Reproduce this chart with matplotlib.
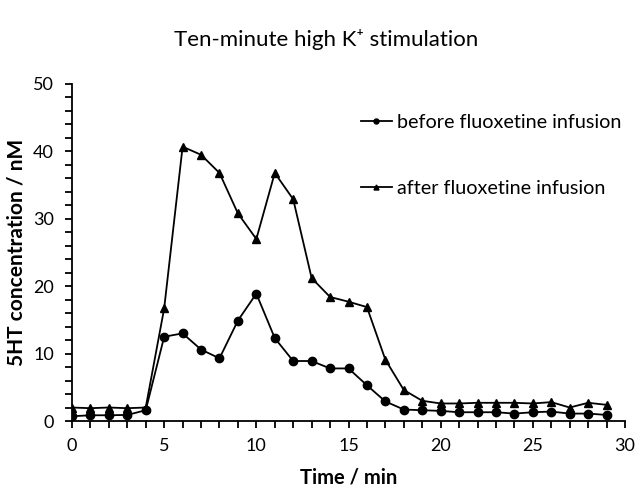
import matplotlib
matplotlib.use("Agg")
import matplotlib.pyplot as plt
from matplotlib.ticker import MultipleLocator

time_min = list(range(30))
before = [0.7, 0.85, 0.85, 0.9, 1.6, 12.5, 13.0, 10.6, 9.3, 14.9, 18.9, 12.3, 8.9, 8.9, 7.8, 7.8, 5.3, 2.9, 1.7, 1.6,
          1.5, 1.3, 1.3, 1.3, 1.1, 1.3, 1.4, 1.1, 1.1, 0.9]
after = [2.0, 1.9, 2.0, 1.9, 2.0, 16.7, 40.7, 39.5, 36.8, 30.8, 27.0, 36.8, 32.9, 21.2, 18.4, 17.7, 16.9, 9.1, 4.6, 3.0,
         2.6, 2.6, 2.7, 2.7, 2.7, 2.6, 2.8, 2.0, 2.7, 2.4]
labels = ["before fluoxetine infusion", "after fluoxetine infusion"]

plt.rcParams['font.family'] = ['Lato', 'DejaVu Sans']

fig = plt.figure(figsize=(6.4, 4.94), dpi=100)
ax = fig.add_axes([72/640, 1-421/494, (625-72)/640, (421-84)/494])

ax.plot(time_min, before, color='black', marker='o', markersize=6, linewidth=1.3, label=labels[0])
ax.plot(time_min, after, color='black', marker='^', markersize=6, linewidth=1.3, label=labels[1])

ax.set_xlim(0, 30)
ax.set_ylim(0, 50)
ax.xaxis.set_major_locator(MultipleLocator(5))
ax.xaxis.set_minor_locator(MultipleLocator(1))
ax.yaxis.set_major_locator(MultipleLocator(10))
ax.yaxis.set_minor_locator(MultipleLocator(2))
ax.tick_params(which='both', direction='out', length=5, width=1.3, labelsize=13)
ax.tick_params(axis='x', pad=7)
ax.tick_params(axis='y', pad=8)
ax.spines['top'].set_visible(False)
ax.spines['right'].set_visible(False)
ax.spines['left'].set_linewidth(1.3)
ax.spines['bottom'].set_linewidth(1.3)

ax.set_xlabel('Time / min', fontsize=14.5, fontweight='bold', labelpad=10)
ax.set_ylabel('5HT concentration / nM', fontsize=15, fontweight='bold', labelpad=5)
fig.text(326/640, 1-40/494, 'Ten-minute high K\u207a stimulation', ha='center', va='center', fontsize=16)

leg = ax.legend(loc='upper left', bbox_to_anchor=(0.49, 0.965), frameon=False, fontsize=14.2,
                labelspacing=2.5, handlelength=1.6, handletextpad=0.25, markerscale=0.6)

fig.savefig('out.png', dpi=100)
